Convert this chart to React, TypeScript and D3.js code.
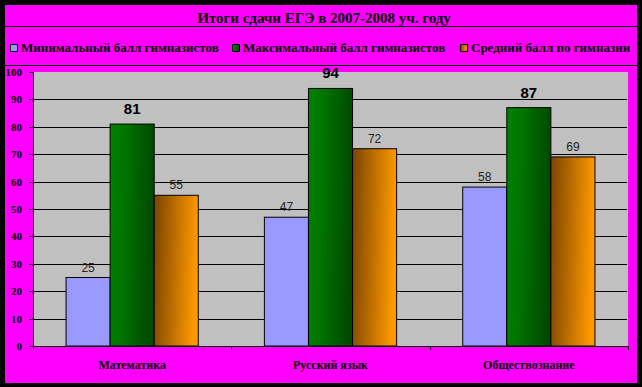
import React from 'react';
import { scaleBand, scaleLinear, range } from 'd3';

const width = 642;
const height = 387;
const plot = { left: 33, right: 628, top: 72, bottom: 346 };

const title = 'Итоги сдачи ЕГЭ в 2007-2008 уч. году';
const categories = ['Математика', 'Русский язык', 'Обществознание'];
const seriesNames = [
  'Минимальный балл гимназистов',
  'Максимальный балл гимназистов',
  'Средний балл по гимназии',
];
const minScores = [25, 47, 58];
const maxScores = [81, 94, 87];
const avgScores = [55, 72, 69];
const yTicks = [0, 10, 20, 30, 40, 50, 60, 70, 80, 90, 100];

const fills = ['#9999FF', 'url(#gGreen)', 'url(#gOrange)'];
const legendX = [10, 232, 460];

const serif = '"Liberation Serif", "Times New Roman", serif';
const sans = '"Liberation Sans", Arial, sans-serif';

const App = () => {
  const series = [minScores, maxScores, avgScores];

  const xScale = scaleBand()
    .domain(categories)
    .range([plot.left, plot.right]);

  // 3 bars + gap of 1.5 bars per category
  const barW = xScale.bandwidth() / 4.5;
  const groupPad = barW * 0.75;

  const yScale = scaleLinear()
    .domain([0, 100])
    .range([plot.bottom, plot.top]);

  return (
    <div style={{ position: 'fixed', left: 0, top: 0 }}>
      <svg width={width} height={height} style={{ display: 'block' }}>
        <defs>
          <linearGradient id="gGreen" x1="0" y1="0" x2="1" y2="0.12">
            <stop offset="0" stopColor="#008200" />
            <stop offset="0.35" stopColor="#007400" />
            <stop offset="1" stopColor="#004a00" />
          </linearGradient>
          <linearGradient id="gOrange" x1="0" y1="0" x2="1" y2="0.12">
            <stop offset="0" stopColor="#7a4400" />
            <stop offset="1" stopColor="#ff9900" />
          </linearGradient>
        </defs>
        <rect x={0} y={0} width={width} height={height} fill="#000" />
        <rect x={5} y={5} width={632} height={378} fill="#FF00FF" />

        <text x={324} y={23} textAnchor="middle" fontFamily={serif} fontWeight="bold" fontSize={15}>
          {title}
        </text>
        <line x1={5} x2={637} y1={26.5} y2={26.5} stroke="#000" />
        <line x1={5} x2={637} y1={65.5} y2={65.5} stroke="#000" />

        {seriesNames.map((name, i) => (
          <g key={name} transform={`translate(${legendX[i]},44)`}>
            <rect x={0.5} y={0.5} width={7} height={7} fill={fills[i]} stroke="#000" />
            <text x={11} y={8} fontFamily={serif} fontWeight="bold" fontSize={13}>
              {name}
            </text>
          </g>
        ))}

        <rect
          x={plot.left}
          y={plot.top}
          width={plot.right - plot.left}
          height={plot.bottom - plot.top}
          fill="#C0C0C0"
        />
        {yTicks.filter(t => t > 0 && t < 100).map(t => (
          <line
            key={t}
            x1={plot.left}
            x2={plot.right - 1}
            y1={Math.round(yScale(t)) + 0.5}
            y2={Math.round(yScale(t)) + 0.5}
            stroke="#000"
          />
        ))}

        {categories.map((cat, ci) =>
          series.map((vals, si) => {
            const x = xScale(cat) + groupPad + si * barW;
            const y = yScale(vals[ci]);
            return (
              <rect
                key={cat + si}
                x={x}
                y={y}
                width={barW}
                height={plot.bottom - y}
                fill={fills[si]}
                stroke="#000"
                strokeWidth={1}
              />
            );
          })
        )}

        {categories.map((cat, ci) =>
          series.map((vals, si) => {
            const x = xScale(cat) + groupPad + si * barW + barW / 2;
            const y = yScale(vals[ci]);
            const bold = si === 1;
            return (
              <text
                key={cat + 'l' + si}
                x={x}
                y={bold ? y - 10 : y - 6}
                textAnchor="middle"
                fontFamily={sans}
                fontWeight={bold ? 'bold' : 'normal'}
                fontSize={bold ? 15 : 12}
                fill={bold ? '#000' : '#222'}
              >
                {vals[ci]}
              </text>
            );
          })
        )}

        <line x1={plot.left + 0.5} x2={plot.left + 0.5} y1={plot.top} y2={plot.bottom} stroke="#000" />
        <line x1={plot.left - 4} x2={plot.right} y1={plot.bottom + 0.5} y2={plot.bottom + 0.5} stroke="#000" />
        {yTicks.map(t => (
          <g key={t} transform={`translate(0,${Math.round(yScale(t)) + 0.5})`}>
            <line x1={plot.left - 4} x2={plot.left} stroke="#000" />
            <text
              x={22}
              dy="0.35em"
              textAnchor="end"
              fontFamily={serif}
              fontWeight="bold"
              fontSize={11}
            >
              {t}
            </text>
          </g>
        ))}
        {range(categories.length + 1).map(i => {
          const x = Math.round(plot.left + i * xScale.step()) + 0.5;
          return <line key={i} x1={x} x2={x} y1={plot.bottom} y2={plot.bottom + 4} stroke="#000" />;
        })}
        {categories.map(cat => (
          <text
            key={cat}
            x={xScale(cat) + xScale.bandwidth() / 2}
            y={369}
            textAnchor="middle"
            fontFamily={serif}
            fontWeight="bold"
            fontSize={12}
          >
            {cat}
          </text>
        ))}
      </svg>
    </div>
  );
};

export default App;
